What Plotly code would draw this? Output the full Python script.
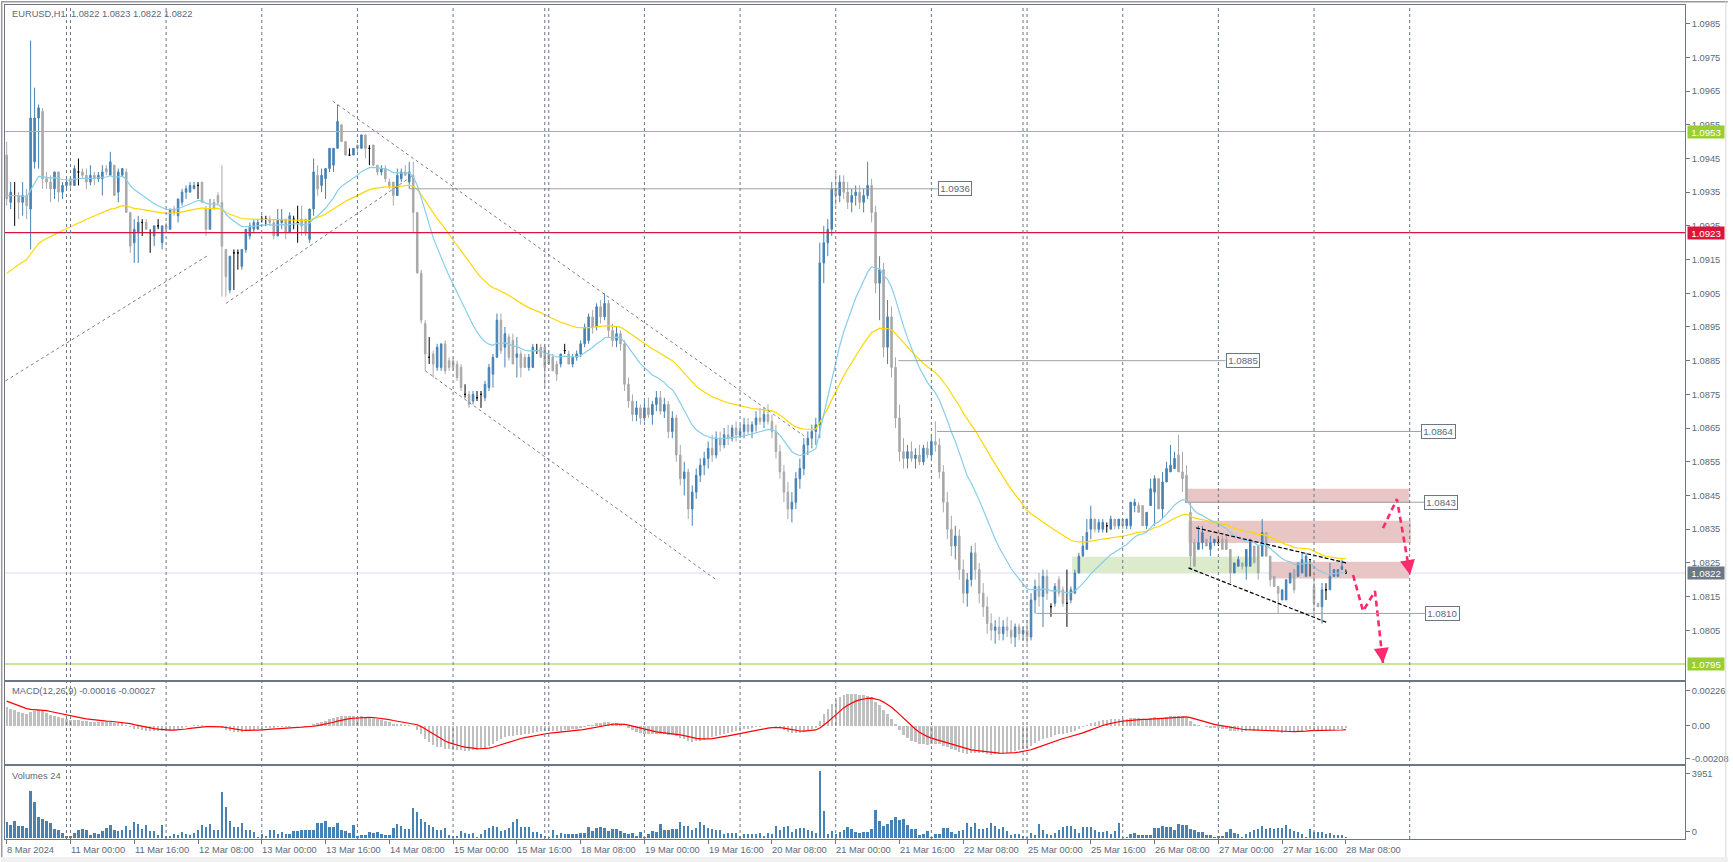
import plotly.graph_objects as go
from plotly.subplots import make_subplots

# ---------------- DATA ----------------
symbol_title = "EURUSD,H1  1.0822 1.0823 1.0822 1.0822"
macd_title = "MACD(12,26,9) -0.00016 -0.00027"
vol_title = "Volumes 24"

opens = [
    1.0946,1.0932,1.0934,1.0934,1.0932,1.0934,1.0930,1.0944,1.0957,1.0959,1.0939,1.0938,1.0936,1.0941,1.0935,1.0937,1.0939,
    1.0937,1.0941,1.0941,1.0940,1.0938,1.0940,1.0939,1.0939,1.0942,1.0940,1.0943,1.0935,1.0940,1.0941,1.0929,1.0920,1.0923,1.0926,1.0926,1.0923,1.0922,1.0925,1.0920,
    1.0925,1.0924,1.0930,1.0928,1.0932,1.0935,1.0935,1.0936,1.0937,1.0938,1.0930,1.0924,1.0932,1.0934,1.0932,1.0918,1.0906,1.0917,1.0917,1.0913,1.0918,1.0922,1.0924,1.0924,
    1.0927,1.0927,1.0927,1.0926,1.0922,1.0926,1.0927,1.0923,1.0927,1.0926,1.0927,1.0927,1.0921,1.0930,1.0940,1.0937,1.0939,1.0942,1.0943,1.0948,1.0955,1.0950,1.0946,1.0946,
    1.0949,1.0948,1.0952,1.0948,1.0949,1.0943,1.0941,1.0942,1.0938,1.0938,1.0934,1.0939,1.0941,1.0938,1.0940,1.0929,1.0911,1.0896,1.0886,1.0887,1.0883,1.0883,1.0890,1.0885,
    1.0885,1.0884,1.0883,1.0875,1.0875,1.0873,1.0874,1.0875,1.0874,1.0877,1.0881,1.0886,1.0897,1.0889,1.0892,1.0891,1.0886,1.0887,1.0886,1.0883,1.0883,1.0888,1.0889,1.0889,
    1.0887,1.0886,1.0884,1.0884,1.0888,1.0887,1.0884,1.0886,1.0887,1.0890,1.0891,1.0898,1.0895,1.0901,1.0898,1.0902,1.0894,1.0891,1.0893,1.0890,1.0878,1.0873,1.0869,1.0871,
    1.0868,1.0871,1.0869,1.0872,1.0874,1.0870,1.0872,1.0864,1.0868,1.0857,1.0850,1.0852,1.0841,1.0846,1.0851,1.0854,1.0856,1.0859,1.0857,1.0862,1.0860,1.0863,1.0862,1.0865,
    1.0863,1.0864,1.0866,1.0864,1.0866,1.0868,1.0867,1.0869,1.0867,1.0864,1.0858,1.0852,1.0846,1.0841,1.0843,1.0850,1.0853,1.0860,1.0862,1.0864,1.0866,1.0914,1.0920,1.0924,
    1.0936,1.0934,1.0938,1.0935,1.0932,1.0934,1.0935,1.0932,1.0934,1.0937,1.0929,1.0908,1.0912,1.0889,1.0898,1.0883,1.0868,1.0858,1.0856,1.0858,1.0856,1.0857,1.0855,1.0859,
    1.0857,1.0861,1.0860,1.0852,1.0843,1.0835,1.0830,1.0833,1.0823,1.0816,1.0820,1.0828,1.0823,1.0816,1.0812,1.0807,1.0805,1.0806,1.0804,1.0806,1.0805,1.0803,1.0806,1.0804,
    1.0805,1.0803,1.0814,1.0818,1.0815,1.0821,1.0812,1.0813,1.0820,1.0817,1.0813,1.0814,1.0816,1.0822,1.0827,1.0829,1.0835,1.0838,1.0835,1.0835,1.0836,1.0835,1.0838,1.0836,
    1.0838,1.0836,1.0836,1.0842,1.0842,1.0842,1.0836,1.0842,1.0846,1.0850,1.0841,1.0849,1.0852,1.0853,1.0857,1.0852,1.0851,1.0840,1.0831,1.0829,1.0831,1.0832,1.0829,1.0831,
    1.0831,1.0832,1.0832,1.0829,1.0822,1.0824,1.0825,1.0824,1.0824,1.0830,1.0830,1.0827,1.0834,1.0827,1.0821,1.0818,1.0814,1.0814,1.0819,1.0823,1.0821,1.0822,1.0821,1.0826,
    1.0818,1.0813,1.0812,1.0817,1.0817,1.0821,1.0821,1.0823,1.0822,
]
highs = [
    1.0950,1.0938,1.0938,1.0935,1.0938,1.0936,1.0980,1.0966,1.0961,1.0960,1.0941,1.0940,1.0941,1.0941,1.0938,1.0939,1.0939,
    1.0943,1.0945,1.0942,1.0942,1.0943,1.0941,1.0941,1.0943,1.0943,1.0947,1.0943,1.0942,1.0942,1.0942,1.0929,1.0927,1.0928,1.0927,1.0927,1.0924,1.0925,1.0927,1.0925,
    1.0926,1.0930,1.0931,1.0933,1.0936,1.0937,1.0938,1.0938,1.0938,1.0938,1.0931,1.0933,1.0933,1.0935,1.0943,1.0918,1.0916,1.0918,1.0918,1.0918,1.0924,1.0926,1.0927,1.0927,
    1.0928,1.0928,1.0928,1.0927,1.0930,1.0930,1.0927,1.0929,1.0928,1.0931,1.0931,1.0927,1.0930,1.0945,1.0943,1.0942,1.0942,1.0948,1.0948,1.0961,1.0955,1.0950,1.0948,1.0948,
    1.0949,1.0952,1.0952,1.0949,1.0949,1.0943,1.0943,1.0943,1.0939,1.0938,1.0942,1.0942,1.0943,1.0944,1.0944,1.0929,1.0912,1.0897,1.0892,1.0888,1.0890,1.0890,1.0891,1.0886,
    1.0886,1.0885,1.0884,1.0878,1.0876,1.0876,1.0876,1.0876,1.0879,1.0884,1.0887,1.0899,1.0899,1.0895,1.0893,1.0893,1.0892,1.0888,1.0887,1.0887,1.0890,1.0890,1.0890,1.0890,
    1.0888,1.0887,1.0885,1.0887,1.0890,1.0888,1.0887,1.0888,1.0891,1.0896,1.0899,1.0900,1.0902,1.0903,1.0905,1.0903,1.0896,1.0895,1.0894,1.0891,1.0880,1.0875,1.0873,1.0872,
    1.0873,1.0874,1.0873,1.0876,1.0876,1.0874,1.0873,1.0870,1.0869,1.0860,1.0855,1.0853,1.0848,1.0853,1.0856,1.0858,1.0861,1.0863,1.0864,1.0864,1.0865,1.0866,1.0866,1.0867,
    1.0866,1.0868,1.0868,1.0867,1.0870,1.0871,1.0871,1.0872,1.0869,1.0866,1.0860,1.0854,1.0849,1.0846,1.0852,1.0856,1.0862,1.0864,1.0866,1.0868,1.0920,1.0925,1.0927,1.0938,
    1.0941,1.0940,1.0940,1.0938,1.0936,1.0937,1.0937,1.0936,1.0944,1.0939,1.0931,1.0916,1.0914,1.0903,1.0901,1.0886,1.0872,1.0862,1.0860,1.0861,1.0859,1.0860,1.0860,1.0861,
    1.0863,1.0867,1.0862,1.0854,1.0846,1.0839,1.0836,1.0835,1.0826,1.0822,1.0830,1.0831,1.0825,1.0819,1.0815,1.0810,1.0808,1.0809,1.0808,1.0809,1.0808,1.0807,1.0807,1.0806,
    1.0808,1.0816,1.0820,1.0822,1.0823,1.0823,1.0813,1.0819,1.0821,1.0818,1.0823,1.0818,1.0823,1.0828,1.0833,1.0838,1.0842,1.0838,1.0838,1.0838,1.0837,1.0839,1.0838,1.0838,
    1.0838,1.0838,1.0843,1.0844,1.0843,1.0842,1.0840,1.0850,1.0851,1.0850,1.0852,1.0855,1.0860,1.0858,1.0863,1.0858,1.0854,1.0843,1.0832,1.0836,1.0836,1.0832,1.0833,1.0832,
    1.0833,1.0833,1.0833,1.0829,1.0825,1.0827,1.0825,1.0829,1.0832,1.0830,1.0830,1.0838,1.0834,1.0827,1.0821,1.0818,1.0817,1.0820,1.0822,1.0823,1.0825,1.0828,1.0828,1.0826,
    1.0822,1.0813,1.0819,1.0819,1.0825,1.0823,1.0823,1.0826,1.0823,
]
lows = [
    1.0931,1.0930,1.0925,1.0927,1.0928,1.0927,1.0918,1.0942,1.0942,1.0936,1.0936,1.0932,1.0933,1.0932,1.0933,1.0936,1.0936,
    1.0937,1.0937,1.0939,1.0936,1.0937,1.0937,1.0938,1.0934,1.0940,1.0940,1.0934,1.0932,1.0940,1.0929,1.0917,1.0914,1.0914,1.0922,1.0924,1.0917,1.0919,1.0924,1.0918,
    1.0923,1.0924,1.0928,1.0926,1.0931,1.0933,1.0935,1.0936,1.0933,1.0932,1.0922,1.0924,1.0930,1.0931,1.0904,1.0904,1.0905,1.0906,1.0912,1.0912,1.0917,1.0921,1.0923,1.0924,
    1.0926,1.0925,1.0925,1.0921,1.0922,1.0924,1.0921,1.0923,1.0924,1.0920,1.0922,1.0922,1.0920,1.0928,1.0934,1.0935,1.0933,1.0941,1.0941,1.0948,1.0950,1.0946,1.0946,1.0946,
    1.0947,1.0948,1.0945,1.0943,1.0943,1.0940,1.0940,1.0938,1.0936,1.0931,1.0934,1.0938,1.0940,1.0936,1.0923,1.0911,1.0896,1.0882,1.0884,1.0880,1.0882,1.0882,1.0881,1.0882,
    1.0882,1.0879,1.0876,1.0874,1.0871,1.0872,1.0873,1.0871,1.0873,1.0876,1.0877,1.0886,1.0887,1.0883,1.0885,1.0884,1.0880,1.0880,1.0883,1.0882,1.0883,1.0887,1.0886,1.0877,
    1.0884,1.0882,1.0879,1.0883,1.0887,1.0884,1.0883,1.0885,1.0886,1.0889,1.0890,1.0893,1.0894,1.0896,1.0897,1.0892,1.0889,1.0889,1.0888,1.0876,1.0871,1.0867,1.0867,1.0866,
    1.0867,1.0868,1.0866,1.0870,1.0869,1.0868,1.0862,1.0862,1.0855,1.0848,1.0845,1.0838,1.0836,1.0844,1.0849,1.0851,1.0853,1.0855,1.0856,1.0858,1.0859,1.0860,1.0861,1.0861,
    1.0862,1.0862,1.0863,1.0862,1.0864,1.0866,1.0865,1.0866,1.0862,1.0856,1.0850,1.0843,1.0838,1.0837,1.0841,1.0847,1.0851,1.0857,1.0859,1.0860,1.0862,1.0908,1.0916,1.0922,
    1.0931,1.0932,1.0933,1.0930,1.0929,1.0931,1.0930,1.0929,1.0933,1.0926,1.0905,1.0897,1.0886,1.0884,1.0880,1.0865,1.0855,1.0853,1.0853,1.0855,1.0853,1.0854,1.0854,1.0856,
    1.0856,1.0858,1.0850,1.0840,1.0832,1.0827,1.0826,1.0820,1.0813,1.0812,1.0818,1.0820,1.0813,1.0809,1.0804,1.0802,1.0801,1.0802,1.0802,1.0803,1.0801,1.0800,1.0802,1.0802,
    1.0801,1.0802,1.0810,1.0812,1.0806,1.0814,1.0809,1.0812,1.0815,1.0812,1.0806,1.0813,1.0816,1.0822,1.0827,1.0829,1.0832,1.0834,1.0834,1.0834,1.0834,1.0835,1.0835,1.0835,
    1.0835,1.0835,1.0835,1.0840,1.0840,1.0836,1.0835,1.0842,1.0836,1.0841,1.0838,1.0849,1.0852,1.0853,1.0852,1.0846,1.0843,1.0823,1.0824,1.0829,1.0829,1.0830,1.0827,1.0830,
    1.0830,1.0829,1.0829,1.0819,1.0822,1.0824,1.0823,1.0820,1.0824,1.0825,1.0820,1.0827,1.0827,1.0818,1.0818,1.0810,1.0814,1.0814,1.0819,1.0816,1.0821,1.0822,1.0821,1.0821,
    1.0810,1.0812,1.0807,1.0814,1.0817,1.0821,1.0821,1.0823,1.0822,
]
closes = [
    1.0933,1.0935,1.0934,1.0932,1.0934,1.0931,1.0957,1.0957,1.0960,1.0939,1.0938,1.0936,1.0941,1.0935,1.0937,1.0938,1.0937,
    1.0942,1.0941,1.0940,1.0938,1.0940,1.0939,1.0940,1.0941,1.0941,1.0944,1.0934,1.0941,1.0942,1.0929,1.0919,1.0924,1.0926,1.0926,1.0924,1.0923,1.0925,1.0925,1.0925,
    1.0924,1.0930,1.0929,1.0933,1.0935,1.0936,1.0937,1.0937,1.0937,1.0932,1.0924,1.0930,1.0930,1.0932,1.0919,1.0910,1.0916,1.0917,1.0917,1.0918,1.0924,1.0925,1.0926,1.0926,
    1.0927,1.0927,1.0926,1.0922,1.0927,1.0927,1.0923,1.0928,1.0927,1.0926,1.0925,1.0923,1.0930,1.0941,1.0936,1.0940,1.0942,1.0948,1.0948,1.0956,1.0950,1.0946,1.0946,1.0948,
    1.0948,1.0952,1.0948,1.0948,1.0943,1.0941,1.0942,1.0939,1.0937,1.0934,1.0940,1.0941,1.0940,1.0941,1.0929,1.0911,1.0897,1.0887,1.0886,1.0884,1.0889,1.0890,1.0882,1.0883,
    1.0883,1.0880,1.0877,1.0875,1.0872,1.0875,1.0874,1.0875,1.0878,1.0883,1.0886,1.0897,1.0888,1.0893,1.0886,1.0884,1.0887,1.0883,1.0883,1.0886,1.0889,1.0888,1.0886,1.0883,
    1.0884,1.0882,1.0881,1.0887,1.0888,1.0884,1.0886,1.0887,1.0890,1.0895,1.0898,1.0895,1.0901,1.0898,1.0902,1.0894,1.0891,1.0893,1.0890,1.0878,1.0873,1.0869,1.0871,1.0868,
    1.0871,1.0869,1.0872,1.0874,1.0870,1.0872,1.0864,1.0868,1.0857,1.0850,1.0852,1.0841,1.0846,1.0851,1.0854,1.0856,1.0859,1.0857,1.0862,1.0860,1.0863,1.0862,1.0865,1.0863,
    1.0864,1.0866,1.0864,1.0866,1.0868,1.0867,1.0869,1.0867,1.0864,1.0858,1.0852,1.0846,1.0841,1.0843,1.0850,1.0853,1.0860,1.0862,1.0864,1.0866,1.0914,1.0920,1.0924,1.0936,
    1.0934,1.0938,1.0935,1.0932,1.0934,1.0935,1.0932,1.0934,1.0937,1.0929,1.0908,1.0912,1.0889,1.0898,1.0883,1.0868,1.0858,1.0856,1.0858,1.0856,1.0857,1.0855,1.0859,1.0857,
    1.0861,1.0860,1.0852,1.0843,1.0835,1.0830,1.0833,1.0823,1.0816,1.0820,1.0828,1.0823,1.0816,1.0812,1.0807,1.0805,1.0806,1.0804,1.0806,1.0805,1.0803,1.0806,1.0804,1.0805,
    1.0803,1.0814,1.0818,1.0815,1.0821,1.0816,1.0812,1.0818,1.0816,1.0813,1.0813,1.0817,1.0822,1.0827,1.0830,1.0834,1.0838,1.0835,1.0837,1.0837,1.0836,1.0838,1.0836,1.0838,
    1.0836,1.0838,1.0843,1.0843,1.0840,1.0836,1.0840,1.0847,1.0850,1.0841,1.0849,1.0853,1.0854,1.0856,1.0852,1.0850,1.0843,1.0827,1.0824,1.0831,1.0834,1.0830,1.0831,1.0832,
    1.0831,1.0829,1.0829,1.0822,1.0825,1.0826,1.0824,1.0829,1.0832,1.0825,1.0822,1.0834,1.0827,1.0820,1.0818,1.0816,1.0817,1.0820,1.0822,1.0817,1.0825,1.0826,1.0827,1.0826,
    1.0813,1.0812,1.0817,1.0817,1.0821,1.0823,1.0823,1.0824,1.0822,
]
volumes = [
    908,770,1007,711,711,593,2785,2133,1244,1126,1007,869,533,454,296,119,119,
    296,454,514,454,138,257,198,415,593,770,474,395,474,691,474,948,810,514,751,375,415,178,731,
    119,119,237,158,356,237,138,257,454,751,612,790,435,454,2726,1837,1007,632,632,849,474,474,356,59,
    198,119,435,435,237,316,237,217,375,415,474,435,435,435,869,869,1007,652,652,889,454,375,257,770,
    119,178,178,316,277,356,217,158,178,593,790,691,533,533,1778,1541,1126,948,731,612,454,454,593,138,
    79,119,415,296,237,257,59,217,474,553,691,612,415,454,593,909,1126,632,632,632,356,316,237,119,
    59,454,178,296,198,237,237,237,257,296,652,415,573,632,593,415,533,514,415,296,217,257,119,356,
    59,198,375,316,830,435,454,514,533,948,672,711,454,593,948,731,573,533,454,474,237,296,277,296,
    119,237,237,237,198,257,119,257,237,711,435,612,691,356,514,593,593,474,395,296,3951,1600,237,415,
    237,356,474,612,514,356,277,356,316,494,1659,1007,672,810,1027,1244,1047,1106,751,533,514,158,198,415,
    59,237,237,553,553,316,237,415,454,849,652,849,494,494,573,849,711,494,632,415,138,198,237,99,
    59,296,178,790,435,237,138,257,454,612,691,672,533,296,632,632,612,474,356,316,415,198,415,889,
    59,59,217,296,158,158,178,178,593,593,711,652,612,474,830,770,770,533,435,356,316,178,178,20,
    99,119,316,533,257,237,59,198,316,474,533,711,514,593,514,573,553,770,533,375,316,198,59,494,
    336,316,356,237,296,158,158,158,20,
]

x_labels = ["8 Mar 2024", "11 Mar 00:00", "11 Mar 16:00", "12 Mar 08:00", "13 Mar 00:00",
            "13 Mar 16:00", "14 Mar 08:00", "15 Mar 00:00", "15 Mar 16:00", "18 Mar 08:00",
            "19 Mar 00:00", "19 Mar 16:00", "20 Mar 08:00", "21 Mar 00:00", "21 Mar 16:00",
            "22 Mar 08:00", "25 Mar 00:00", "25 Mar 16:00", "26 Mar 08:00", "27 Mar 00:00",
            "27 Mar 16:00", "28 Mar 08:00"]
label_bars = [16 * k for k in range(len(x_labels))]
separator_bars = [15, 16, 40, 64, 88, 112, 135, 136, 160, 184, 208, 232, 255, 256, 280, 304, 328, 352]

price_ticks = [round(1.0805 + 0.001 * k, 4) for k in range(19)]
green_levels = [1.0953, 1.0795]
red_level = 1.0923
bid_level = 1.0822
macd_ticks = [0.00226, 0.0, -0.00208]
macd_tick_text = ["0.00226", "0.00", "-0.00208"]
vol_max_label = "3951"

# labelled horizontal segments: (price, start bar, end bar)
level_lines = [(1.0936, 101, 233.6), (1.0885, 223.7, 305.8), (1.0864, 233.4, 354.8),
               (1.0843, 295.6, 355.6), (1.0810, 258.3, 355.8)]

n = len(closes)
assert len(opens) == n and len(highs) == n and len(lows) == n and len(volumes) == n
xs = list(range(n))

# ---------------- indicators ----------------
def ema(values, period, seed):
    k = 2.0 / (period + 1)
    out, e = [], seed
    for v in values:
        e = e + k * (v - e)
        out.append(e)
    return out

ma_fast = ema(closes, 21, 1.0934)
ma_slow = ema(closes, 50, 1.0910)
e12 = ema(closes, 12, 1.09365)
e26 = ema(closes, 26, 1.09233)
macd = [a - b for a, b in zip(e12, e26)]
signal = ema(macd, 9, 0.00168)

# ---------------- layout geometry ----------------
W, H = 1733, 862
L, R, T, B = 4, 43, 4, 23
PW, PH = W - L - R, H - T - B
def py(px):  # pixel y -> paper y
    return (H - B - px) / PH
def pxx(px):  # pixel x -> paper x
    return (px - L) / PW

FONT = "Liberation Sans, Arial, sans-serif"
FS = 9.3
TXT = "#5d6878"
AX = "#6b7785"

fig = make_subplots(rows=3, cols=1, shared_xaxes=True, vertical_spacing=0.0)

norm = [i for i in xs if opens[i] != closes[i]]
doji = [i for i in xs if opens[i] == closes[i]]

fig.add_trace(go.Candlestick(
    x=norm, open=[opens[i] for i in norm], high=[highs[i] for i in norm],
    low=[lows[i] for i in norm], close=[closes[i] for i in norm],
    increasing=dict(line=dict(color="#4682b4", width=1), fillcolor="#4682b4"),
    decreasing=dict(line=dict(color="#a9a9a9", width=1), fillcolor="#a9a9a9"),
    whiskerwidth=0, showlegend=False, hoverinfo="skip"), row=1, col=1)
fig.add_trace(go.Candlestick(
    x=doji, open=[opens[i] for i in doji], high=[highs[i] for i in doji],
    low=[lows[i] for i in doji], close=[closes[i] for i in doji],
    increasing=dict(line=dict(color="#000000", width=1), fillcolor="#000000"),
    decreasing=dict(line=dict(color="#000000", width=1), fillcolor="#000000"),
    whiskerwidth=0, showlegend=False, hoverinfo="skip"), row=1, col=1)

fig.add_trace(go.Scatter(x=xs, y=ma_slow, mode="lines", line=dict(color="#ffd700", width=1.2),
                         showlegend=False, hoverinfo="skip"), row=1, col=1)
fig.add_trace(go.Scatter(x=xs, y=ma_fast, mode="lines", line=dict(color="#87ceeb", width=1.2),
                         showlegend=False, hoverinfo="skip"), row=1, col=1)

# pink dashed scenario arrows (drawing objects)
arrow_a = [(345.3, 1.08353), (348.8, 1.08439), (352.1, 1.08214)]
arrow_b = [(337.8, 1.08214), (340.3, 1.08107), (343.3, 1.08166), (345.3, 1.07953)]
PINK = "#ff2a6d"
for path in (arrow_a, arrow_b):
    fig.add_trace(go.Scatter(x=[p[0] for p in path], y=[p[1] for p in path], mode="lines",
                             line=dict(color=PINK, width=2.6, dash="6px,4px"),
                             showlegend=False, hoverinfo="skip"), row=1, col=1)

fig.add_trace(go.Bar(x=xs, y=macd, marker=dict(color="#c0c0c0", line=dict(width=0)), width=0.6,
                     showlegend=False, hoverinfo="skip"), row=2, col=1)
fig.add_trace(go.Scatter(x=xs, y=signal, mode="lines", line=dict(color="#ff0000", width=1.2),
                         showlegend=False, hoverinfo="skip"), row=2, col=1)

fig.add_trace(go.Bar(x=xs, y=volumes, marker=dict(color="#4682b4", line=dict(width=0)), width=0.6,
                     showlegend=False, hoverinfo="skip"), row=3, col=1)

xr = [-0.425, 421.075]
tickfont = dict(family=FONT, size=FS, color=TXT)
common_x = dict(range=xr, showgrid=False, zeroline=False, showline=True, mirror=True,
                linecolor=AX, linewidth=1, showticklabels=False, rangeslider=dict(visible=False))
fig.update_layout(
    xaxis=dict(common_x, ticks=""),
    xaxis2=dict(common_x, ticks=""),
    xaxis3=dict(common_x, ticks="outside", ticklen=4, tickcolor=AX, tickvals=label_bars),
    yaxis=dict(domain=[py(680), py(4)], range=[1.079019, 1.099054], side="right", showgrid=False,
               zeroline=False, showline=True, mirror=True, linecolor=AX, ticks="outside", ticklen=4,
               tickcolor=AX, tickvals=price_ticks, tickformat=".4f", tickfont=tickfont),
    yaxis2=dict(domain=[py(764), py(682)], range=[-0.00244, 0.00279], side="right", showgrid=False,
                zeroline=False, showline=True, mirror=True, linecolor=AX, ticks="outside", ticklen=4,
                tickcolor=AX, tickvals=macd_ticks, ticktext=macd_tick_text, tickfont=tickfont),
    yaxis3=dict(domain=[0, py(766)], range=[-77, 4247], side="right", showgrid=False,
                zeroline=False, showline=True, mirror=True, linecolor=AX, ticks="outside", ticklen=4,
                tickcolor=AX, tickvals=[3812, 355], ticktext=[vol_max_label, "0"], tickfont=tickfont),
    width=W, height=H, autosize=False,
    margin=dict(l=L, r=R, t=T, b=B, pad=0),
    paper_bgcolor="white", plot_bgcolor="white",
    bargap=0, boxgap=0.45, showlegend=False, hovermode=False,
)

shapes = []
# frame decorations
shapes.append(dict(type="rect", xref="paper", yref="paper", x0=pxx(0), x1=pxx(W), y0=py(H), y1=py(857),
                   fillcolor="#f0f0f0", line=dict(width=0), layer="below"))
shapes.append(dict(type="line", xref="paper", yref="paper", x0=pxx(0), x1=pxx(W), y0=py(0.7), y1=py(0.7),
                   line=dict(color="#9a9a9a", width=1.5)))
shapes.append(dict(type="line", xref="paper", yref="paper", x0=pxx(0.7), x1=pxx(0.7), y0=py(857), y1=py(0),
                   line=dict(color="#9a9a9a", width=1.5)))
shapes.append(dict(type="line", xref="paper", yref="paper", x0=pxx(1731), x1=pxx(1731), y0=py(857), y1=py(0),
                   line=dict(color="#d6d6d6", width=1)))

# rectangles (zones)
for x0, x1, y0, y1, col in [(296.1, 351.8, 1.08428, 1.08470, "#e8c6c6"),
                            (296.5, 352.3, 1.08309, 1.08375, "#e8c6c6"),
                            (316.9, 351.9, 1.08204, 1.08253, "#e8c6c6"),
                            (267.3, 314.4, 1.08220, 1.08268, "#dcebcc")]:
    shapes.append(dict(type="rect", xref="x", yref="y", x0=x0, x1=x1, y0=y0, y1=y1,
                       fillcolor=col, line=dict(width=0), layer="below"))

# horizontal levels
for lv in green_levels:
    shapes.append(dict(type="line", xref="paper", yref="y", x0=0, x1=1, y0=lv, y1=lv,
                       line=dict(color="#9acd32", width=1.2)))
shapes.append(dict(type="line", xref="paper", yref="y", x0=0, x1=1, y0=red_level, y1=red_level,
                   line=dict(color="#dc143c", width=1.2)))
shapes.append(dict(type="line", xref="paper", yref="y", x0=0, x1=1, y0=bid_level, y1=bid_level,
                   line=dict(color="#dcdcf5", width=1), layer="below"))
for lv, a, b in level_lines:
    shapes.append(dict(type="line", xref="x", yref="y", x0=a, x1=b, y0=lv, y1=lv,
                       line=dict(color="#a0a0a0", width=1)))

# trend lines
for (x0, y0), (x1, y1) in [((-0.3, 1.0879), (50.2, 1.0916)), ((55, 1.0902), (102, 1.0940)),
                           ((81.8, 1.0962), (200, 1.08627)), ((105, 1.0882), (178, 1.0820))]:
    shapes.append(dict(type="line", xref="x", yref="y", x0=x0, y0=y0, x1=x1, y1=y1,
                       line=dict(color="#7f7f7f", width=1, dash="3px,3px")))
for (x0, y0), (x1, y1) in [((298.4, 1.08354), (336.1, 1.08250)), ((296.5, 1.08235), (331.5, 1.08072))]:
    shapes.append(dict(type="line", xref="x", yref="y", x0=x0, y0=y0, x1=x1, y1=y1,
                       line=dict(color="#000000", width=1.2, dash="4px,2px")))

# period separators
for b in separator_bars:
    shapes.append(dict(type="line", xref="x", yref="paper", x0=b, x1=b, y0=0, y1=1,
                       line=dict(color=AX, width=1, dash="3px,3px")))

fig.update_layout(shapes=shapes)

ann = []
ann.append(dict(text=symbol_title, xref="paper", yref="paper", x=pxx(9), y=py(12.7), xanchor="left",
                yanchor="middle", showarrow=False, font=dict(family=FONT, size=FS, color=TXT)))
ann.append(dict(text=macd_title, xref="paper", yref="paper", x=pxx(9), y=py(691), xanchor="left",
                yanchor="middle", showarrow=False, font=dict(family=FONT, size=FS, color=TXT)))
ann.append(dict(text=vol_title, xref="paper", yref="paper", x=pxx(9), y=py(776), xanchor="left",
                yanchor="middle", showarrow=False, font=dict(family=FONT, size=FS, color=TXT)))
for b, t in zip(label_bars, x_labels):
    ann.append(dict(text=t, xref="x3", yref="paper", x=b, y=py(850), xanchor="left", yanchor="middle",
                    xshift=-1.5, showarrow=False, font=dict(family=FONT, size=FS, color=TXT)))

# price boxes on the right axis
for lv, bg in [(green_levels[0], "#9acd32"), (red_level, "#dc143c"), (bid_level, "#6b7785"),
               (green_levels[1], "#9acd32")]:
    ann.append(dict(text=f"{lv:.4f}", xref="paper", yref="y", x=1, y=lv, xanchor="left", yanchor="middle",
                    xshift=2, showarrow=False, bgcolor=bg, width=35, height=11, borderpad=0.5,
                    font=dict(family=FONT, size=FS + 0.4, color="white")))
# labels of horizontal segments
for lv, a, b in level_lines:
    ann.append(dict(text=f"{lv:.4f}", xref="x", yref="y", x=b, y=lv, xanchor="left", yanchor="middle",
                    showarrow=False, bgcolor="white", bordercolor=AX, borderwidth=1, borderpad=1.2,
                    font=dict(family=FONT, size=FS + 0.4, color=TXT)))
# arrow heads near the tips of the pink paths
for path in (arrow_a, arrow_b):
    (x0, y0), (x1, y1) = path[-2], path[-1]
    ann.append(dict(x=x1, y=y1, xref="x", yref="y",
                    ax=x1 - (x1 - x0) * 0.2, ay=y1 - (y1 - y0) * 0.2, axref="x", ayref="y",
                    showarrow=True, arrowhead=2, arrowsize=1.15, arrowwidth=2.6, arrowcolor=PINK,
                    text="", standoff=0))
fig.update_layout(annotations=ann)

fig.write_html(
    "out.html",
    config={"displayModeBar": False, "staticPlot": True},
    post_script=("document.documentElement.style.margin='0';document.body.style.margin='0';"
                 "document.body.style.padding='0';document.documentElement.style.overflow='hidden';"
                 "document.body.style.overflow='hidden';"),
)
